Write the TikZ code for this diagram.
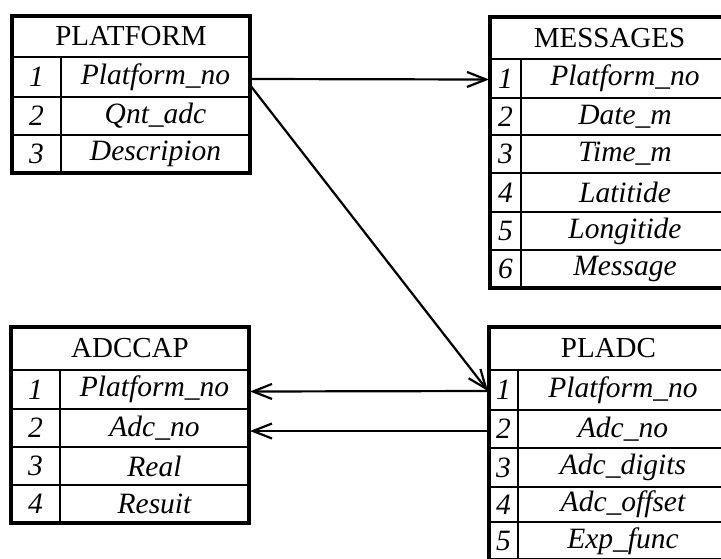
\documentclass[tikz,border=0pt]{standalone}
\usepackage{fontspec}
\setmainfont{Liberation Serif}
\usetikzlibrary{arrows.meta,calc}
\tikzset{
  cell/.style={draw, line width=2.4pt, inner sep=0pt, outer sep=0pt, anchor=north west,
    font=\fontsize{29.5}{32}\selectfont\itshape},
  hdr/.style={draw, line width=2.4pt, inner sep=0pt, outer sep=0pt, anchor=north west,
    font=\fontsize{29}{32}\selectfont},
  frame/.style={draw, line width=3.2pt},
  link/.style={line width=2.2pt, -{Straight Barb[length=19pt,width=15pt,line width=2.2pt]}},
}
\begin{document}
\begin{tikzpicture}[x=1pt,y=-1pt]
\clip (0,0) rectangle (721,558);
% ---------- PLATFORM ----------
\node[hdr, minimum width=238pt, minimum height=41pt] (platform) at (12,16) {PLATFORM};
\node[cell, minimum width=49pt, minimum height=40pt] (platform-n1) at (12,57) {1};
\node[cell, minimum width=189pt, minimum height=40pt] (platform-1) at (61,57) {Platform\_no};
\node[cell, minimum width=49pt, minimum height=38pt] (platform-n2) at (12,97) {2};
\node[cell, minimum width=189pt, minimum height=38pt] (platform-2) at (61,97) {Qnt\_adc};
\node[cell, minimum width=49pt, minimum height=38pt] (platform-n3) at (12,135) {3};
\node[cell, minimum width=189pt, minimum height=38pt] (platform-3) at (61,135) {Descripion};
\draw[frame] (platform.north west) rectangle (platform-3.south east);
% ---------- MESSAGES ----------
\node[hdr, minimum width=239pt, minimum height=42pt] (messages) at (490,17) {MESSAGES};
\node[cell, minimum width=31pt, minimum height=39pt] (messages-n1) at (490,59) {1};
\node[cell, minimum width=208pt, minimum height=39pt] (messages-1) at (521,59) {Platform\_no};
\node[cell, minimum width=31pt, minimum height=37pt] (messages-n2) at (490,98) {2};
\node[cell, minimum width=208pt, minimum height=37pt] (messages-2) at (521,98) {Date\_m};
\node[cell, minimum width=31pt, minimum height=38pt] (messages-n3) at (490,135) {3};
\node[cell, minimum width=208pt, minimum height=38pt] (messages-3) at (521,135) {Time\_m};
\node[cell, minimum width=31pt, minimum height=39pt] (messages-n4) at (490,173) {4};
\node[cell, minimum width=208pt, minimum height=39pt] (messages-4) at (521,173) {Latitide};
\node[cell, minimum width=31pt, minimum height=38pt] (messages-n5) at (490,212) {5};
\node[cell, minimum width=208pt, minimum height=38pt] (messages-5) at (521,212) {Longitide};
\node[cell, minimum width=31pt, minimum height=38pt] (messages-n6) at (490,250) {6};
\node[cell, minimum width=208pt, minimum height=38pt] (messages-6) at (521,250) {Message};
\draw[frame] (messages.north west) rectangle (messages-6.south east);
% ---------- ADCCAP ----------
\node[hdr, minimum width=238pt, minimum height=43pt] (adccap) at (11,327) {ADCCAP};
\node[cell, minimum width=49pt, minimum height=39pt] (adccap-n1) at (11,370) {1};
\node[cell, minimum width=189pt, minimum height=39pt] (adccap-1) at (60,370) {Platform\_no};
\node[cell, minimum width=49pt, minimum height=38pt] (adccap-n2) at (11,409) {2};
\node[cell, minimum width=189pt, minimum height=38pt] (adccap-2) at (60,409) {Adc\_no};
\node[cell, minimum width=49pt, minimum height=38pt] (adccap-n3) at (11,447) {3};
\node[cell, minimum width=189pt, minimum height=38pt] (adccap-3) at (60,447) {Real};
\node[cell, minimum width=49pt, minimum height=38pt] (adccap-n4) at (11,485) {4};
\node[cell, minimum width=189pt, minimum height=38pt] (adccap-4) at (60,485) {Resuit};
\draw[frame] (adccap.north west) rectangle (adccap-4.south east);
% ---------- PLADC ----------
\node[hdr, minimum width=239pt, minimum height=43pt] (pladc) at (489,327) {PLADC};
\node[cell, minimum width=29pt, minimum height=40pt] (pladc-n1) at (489,370) {1};
\node[cell, minimum width=210pt, minimum height=40pt] (pladc-1) at (518,370) {Platform\_no};
\node[cell, minimum width=29pt, minimum height=38pt] (pladc-n2) at (489,410) {2};
\node[cell, minimum width=210pt, minimum height=38pt] (pladc-2) at (518,410) {Adc\_no};
\node[cell, minimum width=29pt, minimum height=39pt] (pladc-n3) at (489,448) {3};
\node[cell, minimum width=210pt, minimum height=39pt] (pladc-3) at (518,448) {Adc\_digits};
\node[cell, minimum width=29pt, minimum height=35pt] (pladc-n4) at (489,487) {4};
\node[cell, minimum width=210pt, minimum height=35pt] (pladc-4) at (518,487) {Adc\_offset};
\node[cell, minimum width=29pt, minimum height=38pt] (pladc-n5) at (489,522) {5};
\node[cell, minimum width=210pt, minimum height=38pt] (pladc-5) at (518,522) {Exp\_func};
\draw[frame] (pladc.north west) rectangle (pladc-5.south east);
% ---------- connectors ----------
\coordinate (diagstart) at ($(platform-1.east)+(0,8)$);
\draw[link] ($(platform-1.east)+(0,2)$) -- ($(messages-n1.west)+(-1,1)$);
\draw[link] (diagstart) -- ($(pladc-n1.west)+(-1,1)$);
\draw[link] ($(pladc-n1.west)+(0,1)$) -- ($(adccap-1.east)+(1,2)$);
\draw[link] ($(pladc-n2.west)+(0,2)$) -- ($(adccap-2.east)+(1,3)$);
\end{tikzpicture}
\end{document}
